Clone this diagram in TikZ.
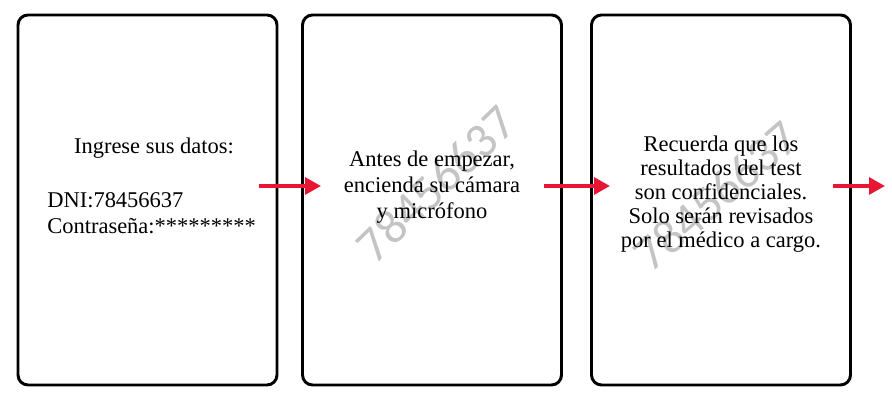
\documentclass[tikz,border=0pt]{standalone}
\usepackage{fontspec}
\setmainfont{Liberation Serif}
\newfontfamily\wmfont{Carlito}
\usetikzlibrary{arrows.meta,calc,positioning}

\definecolor{arrowred}{RGB}{230,22,52}
\definecolor{wmgray}{RGB}{196,196,196}

\begin{document}
\begin{tikzpicture}[
    x=1cm,y=1cm,
    card/.style={
        draw=black,
        line width=2.1pt,
        rounded corners=0.25cm,
        minimum width=6.475cm,
        minimum height=9.25cm
    },
    txt/.style={
        align=center,
        inner sep=0pt,
        font=\fontsize{16}{18.4}\selectfont
    },
    wmark/.style={
        text=wmgray,
        inner sep=0pt,
        font=\wmfont\fontsize{35}{35}\selectfont
    },
    flow/.style={
        -{Triangle[length=0.4cm,width=0.42cm]},
        draw=arrowred,
        line width=2.6pt,
        shorten <=-0.48cm,
        shorten >=-0.5cm
    }
]
\useasboundingbox (0,0) rectangle (22.3,10);

% -----------------------------------------------------------------------------
% Cards
% -----------------------------------------------------------------------------
\node[card] (b1) at (3.6875,5) {};
\node[card] (b2) at (10.8,5) {};
\node[card] (b3) at (18.025,5) {};

% watermarks
\node[wmark, rotate=44] (wm2) at (10.9,5.4) {78456637};
\node[wmark, rotate=41] (wm3) at (17.9,5.1) {78456637};

% -----------------------------------------------------------------------------
% Texts
% -----------------------------------------------------------------------------
\node[txt] (t1) at (3.85,6.3) {Ingrese sus datos:};
\node[txt, align=left, anchor=west] (t1b) at (1.175,4.675)
    {DNI:78456637\\Contraseña:*********};

\node[txt] (t2) at (10.8,5.325)
    {Antes de empezar,\\encienda su cámara\\y micrófono};

\node[txt, font=\fontsize{16}{17}\selectfont] (t3) at (18.025,5.15)
    {Recuerda que los\\resultados del test\\son confidenciales.\\Solo serán revisados\\por el médico a cargo.};

% -----------------------------------------------------------------------------
% Arrows
% -----------------------------------------------------------------------------
\coordinate (out) at (22.125,5.35);
\draw[flow] ([yshift=0.35cm]b1.east) -- ([yshift=0.35cm]b2.west);
\draw[flow] ([yshift=0.35cm]b2.east) -- ([yshift=0.35cm]b3.west);
\draw[flow, shorten >=0pt] ([yshift=0.35cm]b3.east) -- (out);

\end{tikzpicture}
\end{document}
